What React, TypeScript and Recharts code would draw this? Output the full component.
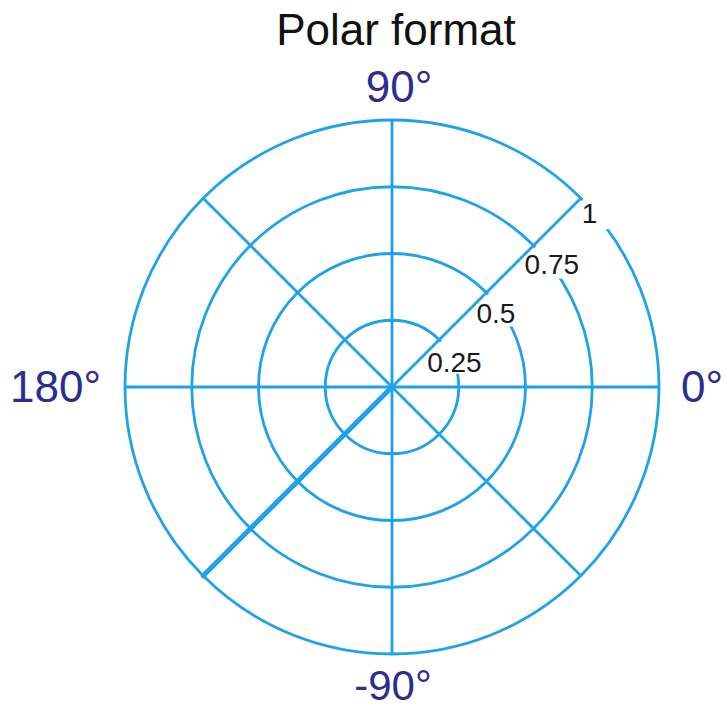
import React from 'react';
import { RadarChart, PolarGrid, PolarAngleAxis, PolarRadiusAxis, Radar } from 'recharts';

// ---- data ----
// categories listed clockwise from 0° (the axis runs from 0 to -360)
const ANGLE_CATEGORIES = ['0', '315', '270', '225', '180', '135', '90', '45'];
const ANGLE_LABELS = ['0°', '', '-90°', '', '180°', '', '90°', ''];
const VECTOR_VALUES = [0, 0, 0, 1, 0, 0, 0, 0];
const RADIUS_TICKS = [0.25, 0.5, 0.75, 1];
const TITLE = 'Polar format';

const data = ANGLE_CATEGORIES.map((a, i) => ({ angle: a, value: VECTOR_VALUES[i] }));

// ---- styling ----
const CX = 392;
const CY = 387;
const R = 267;
const GRID_COLOR = '#1ea2ea';
const LABEL_BLUE = '#2d2d90';
const FONT = '"Liberation Sans", Arial, Helvetica, sans-serif';

const ANGLE_LABEL_STYLE: Record<string, { anchor: string; dx: number; dy: number; size: number }> = {
  '0°': { anchor: 'start', dx: 22, dy: 15, size: 44 },
  '90°': { anchor: 'middle', dx: 7, dy: -18, size: 44 },
  '180°': { anchor: 'end', dx: -24, dy: 15, size: 44 },
  '-90°': { anchor: 'middle', dx: 1, dy: 46, size: 42 },
};

const RADIUS_LABEL_STYLE = [
  { dx: -12, dy: 32, right: 56, bottom: 34 },
  { dx: -10, dy: 30, right: 39, bottom: 34 },
  { dx: -9, dy: 29, right: 55, bottom: 33 },
  { dx: 1, dy: 25, right: 28, bottom: 31 },
];

const renderAngleTick = (props: any) => {
  const { payload, index } = props;
  const label = ANGLE_LABELS[index];
  if (!label) return <g />;
  const st = ANGLE_LABEL_STYLE[label];
  const a = (payload.coordinate * Math.PI) / 180;
  const x = CX + R * Math.cos(a);
  const y = CY - R * Math.sin(a);
  return (
    <text
      x={x + st.dx}
      y={y + st.dy}
      textAnchor={st.anchor as any}
      fill={LABEL_BLUE}
      fontFamily={FONT}
      fontSize={st.size}
    >
      {label}
    </text>
  );
};

const renderRadiusTick = (props: any) => {
  const { x, y, payload } = props;
  const i = RADIUS_TICKS.indexOf(payload.value);
  if (i < 0) return <g />;
  const st = RADIUS_LABEL_STYLE[i];
  const pts = [
    [x + 6, y - 3],
    [x + st.right, y - 3],
    [x + st.right, y + st.bottom],
    [x - st.bottom + 6, y + st.bottom],
  ]
    .map((p) => p.join(','))
    .join(' ');
  return (
    <g>
      <polygon points={pts} fill="#ffffff" stroke="none" />
      <text x={x + st.dx} y={y + st.dy} textAnchor="start" fill="#1a1a1a" fontFamily={FONT} fontSize={28}>
        {String(payload.value)}
      </text>
    </g>
  );
};

export default function App() {
  return (
    <div style={{ position: 'absolute', left: 0, top: 0, width: 726, height: 709, background: '#ffffff' }}>
      <RadarChart
        width={726}
        height={709}
        cx={CX}
        cy={CY}
        innerRadius={0}
        outerRadius={R}
        startAngle={0}
        endAngle={-360}
        data={data}
        margin={{ top: 0, right: 0, bottom: 0, left: 0 }}
      >
        <PolarGrid gridType="circle" stroke={GRID_COLOR} strokeWidth={2.8} />
        <PolarAngleAxis dataKey="angle" tick={renderAngleTick} tickLine={false} axisLine={false} />
        <PolarRadiusAxis
          angle={45}
          type="number"
          domain={[0, 1]}
          ticks={RADIUS_TICKS}
          tick={renderRadiusTick}
          axisLine={false}
          tickLine={false}
        />
        <Radar
          dataKey="value"
          stroke={GRID_COLOR}
          strokeWidth={5}
          strokeLinejoin="round"
          fill="none"
          fillOpacity={0}
          dot={false}
          isAnimationActive={false}
        />
      </RadarChart>
      <svg
        width={726}
        height={709}
        style={{ position: 'absolute', left: 0, top: 0, pointerEvents: 'none' }}
      >
        <text x={396} y={45} textAnchor="middle" fill="#111111" fontFamily={FONT} fontSize={44}>
          {TITLE}
        </text>
      </svg>
    </div>
  );
}
